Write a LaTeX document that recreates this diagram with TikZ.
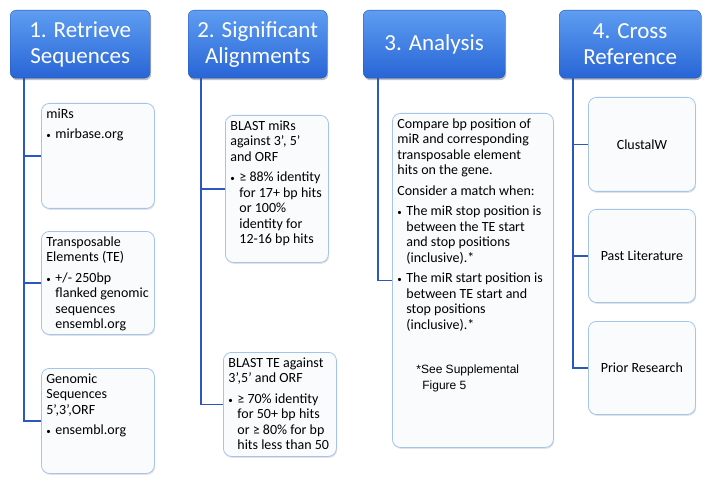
\documentclass[tikz,border=0pt]{standalone}
\usepackage{fontspec}
\setmainfont{Carlito}
\newfontfamily\notefont{Liberation Sans}
\usepackage{tikz}
\usetikzlibrary{positioning, shadows, calc}
\definecolor{hdtop}{HTML}{5E9DF1}
\definecolor{hdbot}{HTML}{2865D6}
\definecolor{hdline}{HTML}{1F55B5}
\definecolor{linkblue}{HTML}{2B58C0}
\definecolor{kidline}{HTML}{A6C4EA}
\definecolor{kidfill}{HTML}{F9FBFD}
\newcommand{\tb}[3]{\parbox[c][#2][t]{#1}{#3}}
\newcommand{\gap}{\par\vspace{5pt}}
\newcommand{\bul}{\par\vspace{5pt}\hangindent=9pt\hangafter=1\noindent\makebox[9pt][l]{\small\textbullet}}
\tikzset{
  hdr/.style ={rectangle, rounded corners=6pt, draw=hdline, top color=hdtop, bottom color=hdbot, anchor=north west,
               align=center, text=white, font=\fontsize{23}{26}\selectfont, inner sep=0pt,
               drop shadow={shadow xshift=1pt, shadow yshift=-2pt, opacity=.35, fill=black!70}},
  kid/.style ={rectangle, rounded corners=8pt, draw=kidline, line width=.8pt, fill=kidfill, anchor=north west,
               inner sep=5pt, font=\fontsize{14}{15.5}\selectfont,
               drop shadow={shadow xshift=.8pt, shadow yshift=-1.5pt, opacity=.18, fill=black!60}},
  kidc/.style={kid, align=center, inner sep=0pt},
  link/.style={draw=linkblue, line width=1.6pt},
}
\begin{document}
\begin{tikzpicture}[x=1pt, y=-1pt]
  \useasboundingbox (0,0) rectangle (711,486);
  \node[hdr, minimum width=140pt, minimum height=68pt] (h1) at (10,10) {1. Retrieve\\Sequences};
  \node[hdr, minimum width=139pt, minimum height=68pt] (h2) at (188,10) {2. Significant\\Alignments};
  \node[hdr, minimum width=142pt, minimum height=68pt] (h3) at (363,10) {3. Analysis};
  \node[hdr, minimum width=142pt, minimum height=68pt] (h4) at (559,10) {4. Cross\\Reference};

  \node[kid] (c1a) at (41,103) {\tb{103pt}{95pt}{miRs\bul mirbase.org}};
  \node[kid] (c1b) at (41,231) {\tb{103pt}{93pt}{Transposable\\Elements (TE)\bul +/- 250bp\\flanked genomic\\sequences\\ensembl.org}};
  \node[kid] (c1c) at (41,368) {\tb{103pt}{95pt}{Genomic\\Sequences\\5’,3’,ORF\bul ensembl.org}};

  \node[kid] (c2a) at (225,115) {\tb{93pt}{137pt}{BLAST miRs\\against 3’, 5’\\and ORF\bul ≥ 88\% identity\\for 17+ bp hits\\or 100\%\\identity for\\12-16 bp hits}};
  \node[kid] (c2b) at (223,352) {\tb{103pt}{94pt}{BLAST TE against\\3’,5’ and ORF\bul ≥ 70\% identity\\for 50+ bp hits\\or ≥ 80\% for bp\\hits less than 50}};

  \node[kid] (c3) at (392,113) {\tb{151pt}{324pt}{Compare bp position of\\miR and corresponding\\transposable element\\hits on the gene.\gap Consider a match when:\bul The miR stop position is\\between the TE start\\and stop positions\\(inclusive).*\bul The miR start position is\\between TE start and\\stop positions\\(inclusive).*\par\vspace{29pt}{\notefont\fontsize{12}{14.5}\selectfont\noindent\hspace*{19pt}*See Supplemental\\\hspace*{25pt}Figure 5}}};

  \node[kidc, minimum width=107pt, minimum height=94pt] (c4a) at (588,97) {ClustalW};
  \node[kidc, minimum width=107pt, minimum height=93pt] (c4b) at (588,209) {Past Literature};
  \node[kidc, minimum width=107pt, minimum height=93pt] (c4c) at (588,321) {Prior Research};

  \draw[link] ([xshift=14pt]h1.south west) |- (c1a.west);
  \draw[link] ([xshift=14pt]h1.south west) |- (c1b.west);
  \draw[link] ([xshift=14pt]h1.south west) |- (c1c.west);
  \draw[link] ([xshift=13pt]h2.south west) |- (c2a.west);
  \draw[link] ([xshift=13pt]h2.south west) |- (c2b.west);
  \draw[link] ([xshift=15pt]h3.south west) |- (c3.west);
  \draw[link] ([xshift=14pt]h4.south west) |- (c4a.west);
  \draw[link] ([xshift=14pt]h4.south west) |- (c4b.west);
  \draw[link] ([xshift=14pt]h4.south west) |- (c4c.west);
\end{tikzpicture}
\end{document}
